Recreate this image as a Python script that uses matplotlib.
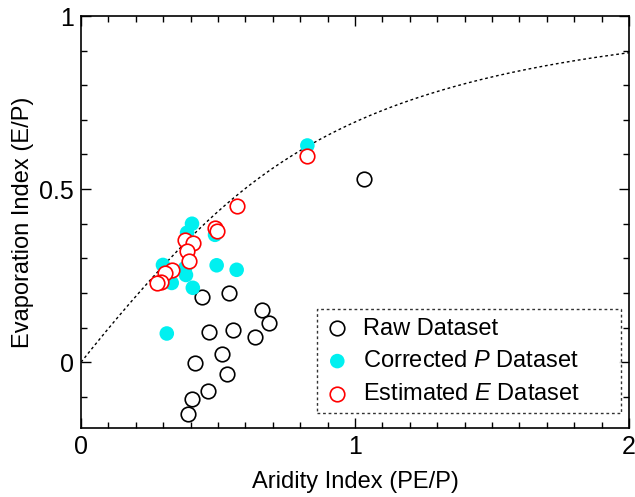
import numpy as np
import matplotlib
matplotlib.use("Agg")
import matplotlib.pyplot as plt
from matplotlib.ticker import MultipleLocator

plt.rcParams['font.family'] = ['Liberation Sans', 'DejaVu Sans']
plt.rcParams['mathtext.fontset'] = 'custom'
plt.rcParams['mathtext.rm'] = 'Liberation Sans'
plt.rcParams['mathtext.it'] = 'Liberation Sans:italic'

# Raw dataset (Aridity index, Evaporation index)
raw_x = [0.44, 0.541, 0.661, 0.687, 0.468, 0.556, 0.636, 0.515, 0.415, 0.534, 0.464, 0.405, 0.392, 1.033]
raw_y = [0.189, 0.199, 0.151, 0.114, 0.086, 0.093, 0.072, 0.025, -0.002, -0.033, -0.083, -0.106, -0.149, 0.528]

# Corrected P dataset
cor_x = [0.405, 0.387, 0.489, 0.299, 0.380, 0.383, 0.495, 0.568, 0.331, 0.408, 0.313, 0.826]
cor_y = [0.400, 0.374, 0.368, 0.281, 0.272, 0.252, 0.280, 0.267, 0.229, 0.215, 0.083, 0.626]

# Estimated E dataset
est_x = [0.568, 0.489, 0.495, 0.380, 0.410, 0.386, 0.395, 0.331, 0.307, 0.291, 0.276, 0.826]
est_y = [0.450, 0.388, 0.378, 0.354, 0.344, 0.320, 0.293, 0.267, 0.259, 0.233, 0.228, 0.595]

# Budyko curve
bx = np.linspace(1e-4, 2, 400)
by = np.sqrt(bx * np.tanh(1.0 / bx) * (1 - np.exp(-bx)))

fig = plt.figure(figsize=(6.35, 4.97), dpi=100)
ax = fig.add_axes([0.1276, 0.1388, 0.8630, 0.8290])

ax.plot(bx, by, color='black', lw=1.0, linestyle=(0, (2, 2)), zorder=1)
ax.scatter(raw_x, raw_y, s=110, facecolors='white', edgecolors='black', linewidths=1.2,
           zorder=2, label='Raw Dataset')
ax.scatter(cor_x, cor_y, s=110, facecolors='#00f0f0', edgecolors='none',
           zorder=3, label='Corrected $P$ Dataset')
ax.scatter(est_x, est_y, s=110, facecolors='white', edgecolors='red', linewidths=1.2,
           zorder=4, label='Estimated $E$ Dataset')

ax.set_xlim(0, 2)
ax.set_ylim(-0.19, 1)
ax.xaxis.set_minor_locator(MultipleLocator(0.1))
ax.yaxis.set_minor_locator(MultipleLocator(0.1))
ax.set_xticks([0, 1, 2])
ax.set_xticklabels(['0', '1', '2'])
ax.set_yticks([0, 0.5, 1])
ax.set_yticklabels(['0', '0.5', '1'])
ax.tick_params(which='both', direction='in', top=True, right=True, labelsize=18, width=1.0)
ax.tick_params(which='major', length=7, pad=5)
ax.tick_params(which='minor', length=4.5)
for sp in ax.spines.values():
    sp.set_linewidth(1.2)

ax.set_xlabel('Aridity Index (PE/P)', fontsize=17, labelpad=9)
ax.set_ylabel('Evaporation Index (E/P)', fontsize=17, labelpad=4)

leg = ax.legend(loc='lower left', bbox_to_anchor=(0.431, 0.036, 0.555, 0.262), mode='expand',
                fontsize=17, frameon=True, fancybox=False, handletextpad=0.6, borderpad=0.35,
                labelspacing=0.45, handlelength=1.0, borderaxespad=0)
frame = leg.get_frame()
frame.set_edgecolor('black')
frame.set_linestyle((0, (2, 2)))
frame.set_linewidth(1.0)

fig.savefig('out.png', dpi=100)
